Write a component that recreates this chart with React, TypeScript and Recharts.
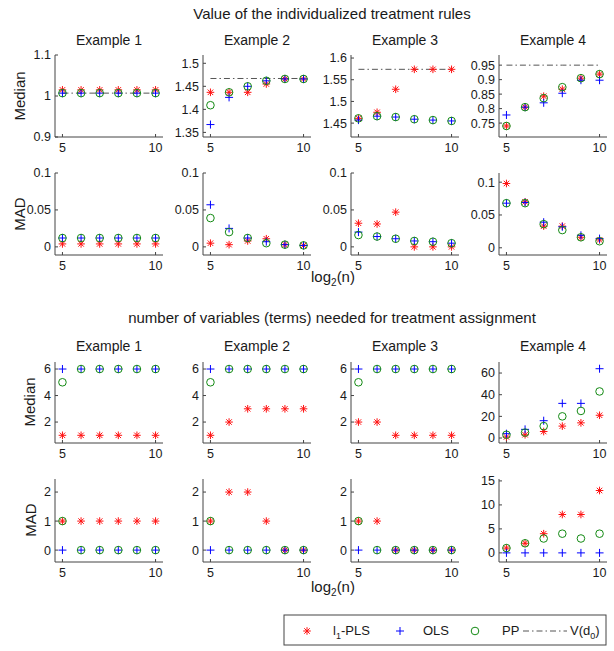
import React from 'react';
import { ComposedChart, Scatter, Line, XAxis, YAxis } from 'recharts';

const LOG2N = [5, 6, 7, 8, 9, 10];
const EXAMPLES = ['Example 1', 'Example 2', 'Example 3', 'Example 4'];

// value of the individualized treatment rules: median (one list per example)
const VALUE_MEDIAN_PLS = [
  [1.015, 1.015, 1.015, 1.015, 1.015, 1.015],
  [1.437, 1.437, 1.437, 1.455, 1.466, 1.466],
  [1.461, 1.475, 1.528, 1.574, 1.574, 1.574],
  [0.74, 0.805, 0.843, 0.867, 0.905, 0.919],
];
const VALUE_MEDIAN_OLS = [
  [1.007, 1.007, 1.007, 1.007, 1.007, 1.007],
  [1.367, 1.426, 1.45, 1.462, 1.466, 1.466],
  [1.457, 1.466, 1.464, 1.459, 1.457, 1.455],
  [0.778, 0.805, 0.82, 0.853, 0.898, 0.898],
];
const VALUE_MEDIAN_PP = [
  [1.007, 1.007, 1.007, 1.007, 1.007, 1.007],
  [1.409, 1.437, 1.45, 1.462, 1.466, 1.466],
  [1.461, 1.466, 1.464, 1.459, 1.457, 1.455],
  [0.74, 0.805, 0.836, 0.874, 0.905, 0.919],
];
const V_D0 = [1.007, 1.467, 1.574, 0.95];

// value: MAD
const VALUE_MAD_PLS = [
  [0.004, 0.004, 0.004, 0.004, 0.004, 0.004],
  [0.005, 0.003, 0.008, 0.011, 0.003, 0.002],
  [0.032, 0.031, 0.047, 0, 0, 0],
  [0.098, 0.07, 0.033, 0.033, 0.016, 0.012],
];
const VALUE_MAD_OLS = [
  [0.012, 0.012, 0.012, 0.012, 0.012, 0.012],
  [0.057, 0.025, 0.012, 0.007, 0.003, 0.002],
  [0.02, 0.014, 0.011, 0.008, 0.007, 0.005],
  [0.068, 0.069, 0.039, 0.032, 0.019, 0.014],
];
const VALUE_MAD_PP = [
  [0.012, 0.012, 0.012, 0.012, 0.012, 0.012],
  [0.039, 0.02, 0.012, 0.005, 0.003, 0.002],
  [0.016, 0.014, 0.011, 0.008, 0.007, 0.005],
  [0.068, 0.068, 0.036, 0.027, 0.016, 0.01],
];

// number of variables: median
const TERMS_MEDIAN_PLS = [
  [1, 1, 1, 1, 1, 1],
  [1, 2, 3, 3, 3, 3],
  [2, 2, 1, 1, 1, 1],
  [1, 3, 6, 11, 14, 21],
];
const TERMS_MEDIAN_OLS = [
  [6, 6, 6, 6, 6, 6],
  [6, 6, 6, 6, 6, 6],
  [6, 6, 6, 6, 6, 6],
  [4, 8, 16, 32, 32, 64],
];
const TERMS_MEDIAN_PP = [
  [5, 6, 6, 6, 6, 6],
  [5, 6, 6, 6, 6, 6],
  [5, 6, 6, 6, 6, 6],
  [3, 5, 11, 20, 25, 43],
];

// number of variables: MAD
const TERMS_MAD_PLS = [
  [1, 1, 1, 1, 1, 1],
  [1, 2, 2, 1, 0, 0],
  [1, 1, 0, 0, 0, 0],
  [1, 2, 4, 8, 8, 13],
];
const TERMS_MAD_OLS = [
  [0, 0, 0, 0, 0, 0],
  [0, 0, 0, 0, 0, 0],
  [0, 0, 0, 0, 0, 0],
  [0, 0, 0, 0, 0, 0],
];
const TERMS_MAD_PP = [
  [1, 0, 0, 0, 0, 0],
  [1, 0, 0, 0, 0, 0],
  [1, 0, 0, 0, 0, 0],
  [1, 2, 3, 4, 3, 4],
];

const VALUE_MEDIAN_TICKS = [[0.9, 1, 1.1], [1.35, 1.4, 1.45, 1.5], [1.45, 1.5, 1.55, 1.6], [0.75, 0.8, 0.85, 0.9, 0.95]];
const VALUE_MAD_TICKS = [[0, 0.05, 0.1], [0, 0.05, 0.1], [0, 0.05, 0.1], [0, 0.05, 0.1]];
const TERMS_MEDIAN_TICKS = [[2, 4, 6], [2, 4, 6], [2, 4, 6], [0, 20, 40, 60]];
const TERMS_MAD_TICKS = [[0, 1, 2], [0, 1, 2], [0, 1, 2], [0, 5, 10, 15]];
const X_TICKS = [5, 10];

// layout
const FONT = "'Liberation Sans', Arial, Helvetica, sans-serif";
const AXIS_C = '#444';
const TEXT_C = '#1a1a1a';
const RED = '#ff1010';
const BLUE = '#0000ff';
const GREEN = '#138a13';
const COL_LEFT = [55, 203, 351, 499];
const BOX_W = 108;
const Y_AXIS_W = 45;
const PAD_TOP = 10;

const ROWS = [
  {
    top: 55, h: 82, ticks: VALUE_MEDIAN_TICKS, pls: VALUE_MEDIAN_PLS, ols: VALUE_MEDIAN_OLS, pp: VALUE_MEDIAN_PP, v: V_D0,
    domains: [[0.9, 1.1], [1.34, 1.518], [1.418, 1.607], [0.702, 0.985]],
  },
  {
    top: 173, h: 82, ticks: VALUE_MAD_TICKS, pls: VALUE_MAD_PLS, ols: VALUE_MAD_OLS, pp: VALUE_MAD_PP, v: null,
    domains: [[-0.011, 0.1], [-0.011, 0.1], [-0.011, 0.1], [-0.011, 0.114]],
  },
  {
    top: 362, h: 81, ticks: TERMS_MEDIAN_TICKS, pls: TERMS_MEDIAN_PLS, ols: TERMS_MEDIAN_OLS, pp: TERMS_MEDIAN_PP, v: null,
    domains: [[0.42, 6.53], [0.42, 6.53], [0.42, 6.53], [-4.6, 70.2]],
  },
  {
    top: 479, h: 83, ticks: TERMS_MAD_TICKS, pls: TERMS_MAD_PLS, ols: TERMS_MAD_OLS, pp: TERMS_MAD_PP, v: null,
    domains: [[-0.41, 2.45], [-0.41, 2.45], [-0.41, 2.45], [-1.9, 15.4]],
  },
];

function StarMark({ cx, cy }: any) {
  const r = 3.8;
  const d = r * 0.72;
  return (
    <g stroke={RED} strokeWidth={1}>
      <line x1={cx - r} y1={cy} x2={cx + r} y2={cy} />
      <line x1={cx} y1={cy - r} x2={cx} y2={cy + r} />
      <line x1={cx - d} y1={cy - d} x2={cx + d} y2={cy + d} />
      <line x1={cx - d} y1={cy + d} x2={cx + d} y2={cy - d} />
    </g>
  );
}

function PlusMark({ cx, cy }: any) {
  const r = 4;
  return (
    <g stroke={BLUE} strokeWidth={1}>
      <line x1={cx - r} y1={cy} x2={cx + r} y2={cy} />
      <line x1={cx} y1={cy - r} x2={cx} y2={cy + r} />
    </g>
  );
}

function CircleMark({ cx, cy }: any) {
  return <circle cx={cx} cy={cy} r={3.8} fill="none" stroke={GREEN} strokeWidth={1} />;
}

const toPts = (ys: number[]) => LOG2N.map((x, i) => ({ x, y: ys[i] }));

interface PanelProps {
  left: number;
  top: number;
  h: number;
  domain: number[];
  ticks: number[];
  pls: number[];
  ols: number[];
  pp: number[];
  v: number | null;
}

function Panel({ left, top, h, domain, ticks, pls, ols, pp, v }: PanelProps) {
  const tickStyle = { fill: TEXT_C, fontSize: 12.5, fontFamily: FONT };
  return (
    <div style={{ position: 'absolute', left: left - Y_AXIS_W, top: top - PAD_TOP }}>
      <ComposedChart width={Y_AXIS_W + BOX_W + 6} height={h + PAD_TOP + 24}
        margin={{ top: PAD_TOP, right: 6, bottom: 0, left: 0 }}>
        <XAxis xAxisId="b" type="number" dataKey="x" domain={[4.6, 10.4]} ticks={X_TICKS} allowDataOverflow interval={0}
          orientation="bottom" height={24} tickSize={-3} tickMargin={9} stroke={AXIS_C} tick={tickStyle} />
        <XAxis xAxisId="t" type="number" dataKey="x" domain={[4.6, 10.4]} ticks={X_TICKS} allowDataOverflow interval={0}
          orientation="top" height={0} tickSize={-3} stroke={AXIS_C} tick={false} />
        <YAxis yAxisId="l" type="number" dataKey="y" domain={domain} ticks={ticks} allowDataOverflow interval={0}
          width={Y_AXIS_W} tickSize={-3} tickMargin={7} stroke={AXIS_C} tick={tickStyle} />
        <YAxis yAxisId="r" type="number" dataKey="y" domain={domain} ticks={ticks} allowDataOverflow interval={0}
          orientation="right" width={0} tickSize={-3} stroke={AXIS_C} tick={false} />
        {v != null && (
          <Line xAxisId="b" yAxisId="l" data={toPts(LOG2N.map(() => v))} dataKey="y" stroke="#555"
            strokeWidth={1} strokeDasharray="6 3 1.5 3" dot={false} isAnimationActive={false} />
        )}
        <Scatter xAxisId="b" yAxisId="l" data={toPts(pls)} dataKey="y" shape={StarMark} isAnimationActive={false} />
        <Scatter xAxisId="b" yAxisId="l" data={toPts(ols)} dataKey="y" shape={PlusMark} isAnimationActive={false} />
        <Scatter xAxisId="b" yAxisId="l" data={toPts(pp)} dataKey="y" shape={CircleMark} isAnimationActive={false} />
      </ComposedChart>
    </div>
  );
}

function Log2n({ x, y }: { x: number; y: number }) {
  return (
    <text x={x} y={y} textAnchor="middle" fontSize={15} fill={TEXT_C}>
      log<tspan fontSize={10} dy={4}>2</tspan><tspan dy={-4}>(n)</tspan>
    </text>
  );
}

function Overlay() {
  const yLabels = [
    { t: 'Median', x: 19, y: 96 },
    { t: 'MAD', x: 19, y: 214 },
    { t: 'Median', x: 29, y: 402 },
    { t: 'MAD', x: 30, y: 520 },
  ];
  const ly = 631;
  return (
    <svg width={614} height={651} style={{ position: 'absolute', left: 0, top: 0, pointerEvents: 'none' }}
      fontFamily={FONT}>
      <text x={332} y={19} textAnchor="middle" fontSize={15} fill={TEXT_C}>Value of the individualized treatment rules</text>
      <text x={332} y={323} textAnchor="middle" fontSize={15} fill={TEXT_C}>number of variables (terms) needed for treatment assignment</text>
      {EXAMPLES.map((e, i) => (
        <g key={e}>
          <text x={COL_LEFT[i] + BOX_W / 2} y={45} textAnchor="middle" fontSize={14} fill={TEXT_C}>{e}</text>
          <text x={COL_LEFT[i] + BOX_W / 2} y={351} textAnchor="middle" fontSize={14} fill={TEXT_C}>{e}</text>
        </g>
      ))}
      {yLabels.map((l, i) => (
        <text key={i} x={l.x} y={l.y} transform={`rotate(-90 ${l.x} ${l.y})`} textAnchor="middle"
          dominantBaseline="central" fontSize={15} fill={TEXT_C}>{l.t}</text>
      ))}
      <Log2n x={333} y={282} />
      <Log2n x={333} y={592} />
      <rect x={284} y={615} width={322} height={30} fill="#fff" stroke={AXIS_C} strokeWidth={1} />
      <StarMark cx={307} cy={ly} />
      <text x={333} y={ly + 4} fontSize={13} fill={TEXT_C}>
        l<tspan fontSize={9} dy={4}>1</tspan><tspan dy={-4}>-PLS</tspan>
      </text>
      <PlusMark cx={400} cy={ly} />
      <text x={423} y={ly + 4} fontSize={13} fill={TEXT_C}>OLS</text>
      <CircleMark cx={475} cy={ly} />
      <text x={502} y={ly + 4} fontSize={13} fill={TEXT_C}>PP</text>
      <line x1={523} y1={ly} x2={567} y2={ly} stroke="#555" strokeWidth={1} strokeDasharray="6 3 1.5 3" />
      <text x={570} y={ly + 4} fontSize={13} fill={TEXT_C}>
        V(d<tspan fontSize={9} dy={4}>0</tspan><tspan dy={-4}>)</tspan>
      </text>
    </svg>
  );
}

export default function App() {
  return (
    <div style={{ position: 'absolute', left: 0, top: 0, width: 614, height: 651, background: '#fff', fontFamily: FONT }}>
      {ROWS.map((row, r) =>
        COL_LEFT.map((left, c) => (
          <Panel key={`${r}-${c}`} left={left} top={row.top} h={row.h} domain={row.domains[c]}
            ticks={row.ticks[c]} pls={row.pls[c]} ols={row.ols[c]} pp={row.pp[c]}
            v={row.v ? row.v[c] : null} />
        ))
      )}
      <Overlay />
    </div>
  );
}
